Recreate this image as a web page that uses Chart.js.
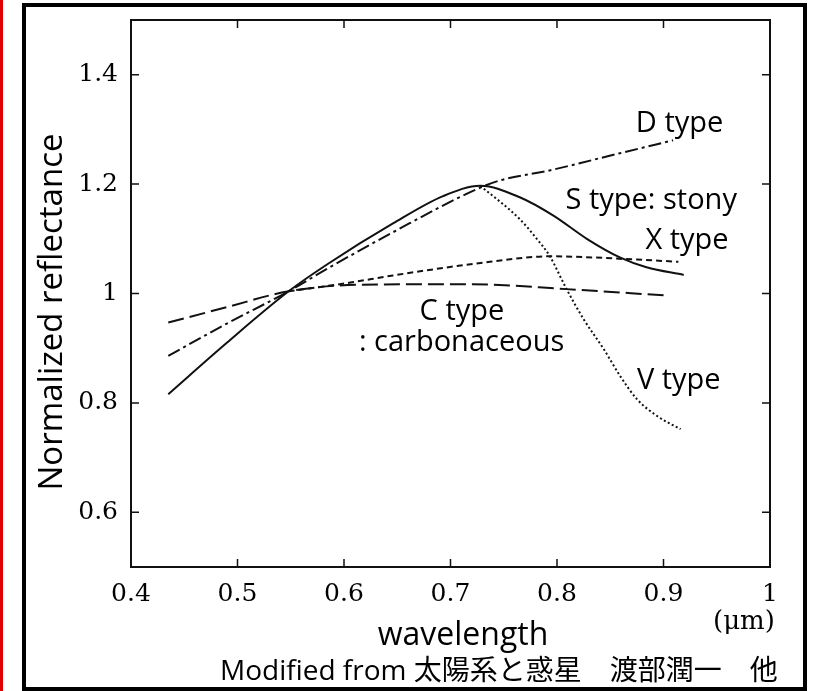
<!DOCTYPE html>
<html>
<head>
<meta charset="utf-8">
<script src="https://cdn.jsdelivr.net/npm/chart.js@4.4.1/dist/chart.umd.min.js"></script>
<style>
  html, body { margin:0; padding:0; background:#fff; }
  #wrap { position:relative; width:815px; height:691px; overflow:hidden; background:#fff; }
  #redline { position:absolute; left:0; top:0; width:3px; height:691px; background:#e00000; }
  #box { position:absolute; left:22px; top:3px; width:777px; height:680px; border:4px solid #000; }
  #c { position:absolute; left:0; top:0; }
</style>
</head>
<body>
<div id="wrap">
  <div id="redline"></div>
  <div id="box"></div>
  <canvas id="c" width="815" height="691"></canvas>
</div>
<script>
// ---- data ----
const xTickValues = [0.4, 0.5, 0.6, 0.7, 0.8, 0.9, 1.0];
const xTickLabels = ['0.4', '0.5', '0.6', '0.7', '0.8', '0.9', '1'];
const yTickValues = [0.6, 0.8, 1.0, 1.2, 1.4];
const yTickLabels = ['0.6', '0.8', '1', '1.2', '1.4'];

const seriesNames = ['S type', 'D type', 'C type', 'X type', 'V type'];

const sWave = [0.435, 0.490, 0.548, 0.584, 0.646, 0.693, 0.728, 0.765, 0.797, 0.828, 0.859, 0.884, 0.919];
const sRefl = [0.816, 0.910, 1.004, 1.053, 1.128, 1.178, 1.197, 1.176, 1.142, 1.100, 1.066, 1.048, 1.034];

const dWave = [0.435, 0.490, 0.548, 0.584, 0.646, 0.725, 0.747, 0.793, 0.856, 0.909];
const dRefl = [0.886, 0.945, 1.004, 1.045, 1.112, 1.191, 1.207, 1.225, 1.255, 1.280];

const cWave = [0.435, 0.490, 0.548, 0.615, 0.718, 0.809, 0.905];
const cRefl = [0.947, 0.975, 1.004, 1.016, 1.017, 1.008, 0.996];

const xtWave = [0.548, 0.606, 0.646, 0.737, 0.793, 0.875, 0.914];
const xtRefl = [1.004, 1.020, 1.033, 1.058, 1.068, 1.062, 1.058];

const vWave = [0.728, 0.765, 0.781, 0.793, 0.809, 0.825, 0.844, 0.859, 0.875, 0.894, 0.916];
const vRefl = [1.197, 1.136, 1.100, 1.069, 1.008, 0.953, 0.898, 0.850, 0.807, 0.776, 0.752];

// ---- text placed on the chart ----
const curveLabels = [
  { text: 'D type',         at: [0.874, 1.296] },
  { text: 'S type: stony',  at: [0.808, 1.155] },
  { text: 'X type',         at: [0.883, 1.082] },
  { text: 'C type',         at: [0.671, 0.952] },
  { text: ': carbonaceous', at: [0.614, 0.895] },
  { text: 'V type',         at: [0.875, 0.825] }
];
const yTitle = 'Normalized reflectance';
const xTitle = 'wavelength';
const unitText = '(μm)';
const caption = 'Modified from 太陽系と惑星　渡部潤一　他';

const SANS = "'Open Sans', 'Noto Sans CJK JP', sans-serif";
const SERIF = "'DejaVu Serif', serif";

function pts(xs, ys) { return xs.map((v, i) => ({ x: v, y: ys[i] })); }

function ds(label, xs, ys, dash) {
  return {
    label, data: pts(xs, ys), showLine: true, borderColor: '#111', borderWidth: 2,
    borderDash: dash, borderCapStyle: 'butt', pointRadius: 0, pointHoverRadius: 0,
    cubicInterpolationMode: 'monotone', fill: false
  };
}

const framePlugin = {
  id: 'frameAndText',
  afterDraw(chart) {
    const { ctx, chartArea: a, scales: { x, y } } = chart;
    ctx.save();
    ctx.strokeStyle = '#111';
    ctx.lineWidth = 2;
    ctx.strokeRect(a.left, a.top, a.right - a.left, a.bottom - a.top);
    ctx.lineWidth = 1.5;
    ctx.beginPath();
    xTickValues.forEach(v => {
      const p = x.getPixelForValue(v);
      ctx.moveTo(p, a.bottom); ctx.lineTo(p, a.bottom - 8);
      ctx.moveTo(p, a.top); ctx.lineTo(p, a.top + 8);
    });
    yTickValues.forEach(v => {
      const p = y.getPixelForValue(v);
      ctx.moveTo(a.left, p); ctx.lineTo(a.left + 8, p);
      ctx.moveTo(a.right, p); ctx.lineTo(a.right - 8, p);
    });
    ctx.stroke();

    ctx.fillStyle = '#000';
    ctx.textBaseline = 'alphabetic';
    ctx.textAlign = 'left';
    ctx.font = '29px ' + SANS;
    curveLabels.forEach(l => {
      ctx.fillText(l.text, x.getPixelForValue(l.at[0]), y.getPixelForValue(l.at[1]));
    });

    // axis titles
    ctx.font = '32px ' + SANS;
    ctx.textAlign = 'center';
    ctx.fillText(xTitle, 463, 645);
    ctx.save();
    ctx.translate(62, 312);
    ctx.rotate(-Math.PI / 2);
    ctx.font = '33px ' + SANS;
    ctx.fillText(yTitle, 0, 0);
    ctx.restore();

    ctx.font = '26px ' + SERIF;
    ctx.fillText(unitText, 744, 629);

    ctx.textAlign = 'left';
    ctx.font = '28px ' + SANS;
    ctx.fillText(caption, 220, 680);
    ctx.restore();
  }
};

function noPad(s) { s.paddingTop = 0; s.paddingBottom = 0; s.paddingLeft = 0; s.paddingRight = 0; }

new Chart(document.getElementById('c'), {
  type: 'scatter',
  data: {
    datasets: [
      ds(seriesNames[0], sWave, sRefl, []),
      ds(seriesNames[1], dWave, dRefl, [13, 4, 3, 4]),
      ds(seriesNames[2], cWave, cRefl, [16, 6]),
      ds(seriesNames[3], xtWave, xtRefl, [6, 4]),
      ds(seriesNames[4], vWave, vRefl, [2, 2.5])
    ]
  },
  options: {
    responsive: false,
    devicePixelRatio: 1,
    animation: false,
    layout: { padding: { left: 0, top: 20, right: 45, bottom: 0 } },
    plugins: { legend: { display: false }, tooltip: { enabled: false } },
    scales: {
      x: {
        type: 'linear', min: 0.4, max: 1.0,
        afterFit(s) { s.height = 124; noPad(s); },
        afterBuildTicks(s) { s.ticks = xTickValues.map(v => ({ value: v })); },
        grid: { display: false, drawTicks: false, tickLength: 0 }, border: { display: false },
        ticks: {
          color: '#000', padding: 12, maxRotation: 0, autoSkip: false,
          font: { family: SERIF, size: 25 },
          callback: (v) => { const i = xTickValues.findIndex(t => Math.abs(t - v) < 1e-6); return i >= 0 ? xTickLabels[i] : ''; }
        }
      },
      y: {
        type: 'linear', min: 0.5, max: 1.5,
        afterFit(s) { s.width = 131; noPad(s); },
        afterBuildTicks(s) { s.ticks = yTickValues.map(v => ({ value: v })); },
        grid: { display: false, drawTicks: false, tickLength: 0 }, border: { display: false },
        ticks: {
          color: '#000', padding: 13, autoSkip: false,
          font: { family: SERIF, size: 25 },
          callback: (v) => { const i = yTickValues.findIndex(t => Math.abs(t - v) < 1e-6); return i >= 0 ? yTickLabels[i] : ''; }
        }
      }
    }
  },
  plugins: [framePlugin]
});
</script>
</body>
</html>
